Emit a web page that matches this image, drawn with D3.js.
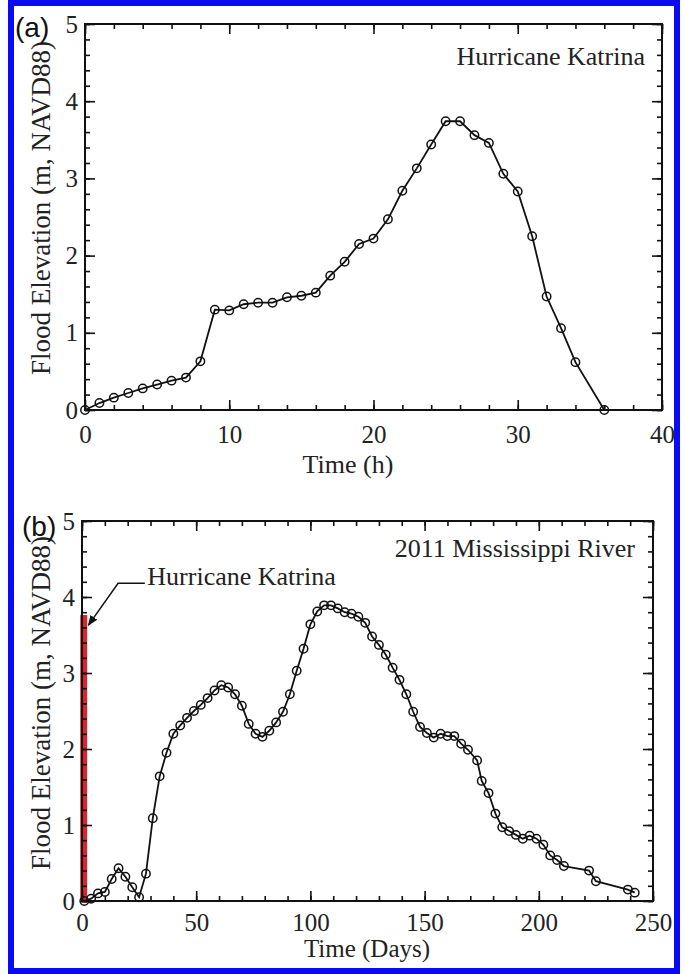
<!DOCTYPE html>
<html>
<head>
<meta charset="utf-8">
<script src="https://cdn.jsdelivr.net/npm/d3@7"></script>
<style>
    body { margin: 0; background: #fff; }
    svg { display: block; }
    .tick line { stroke: #111; stroke-width: 1.6; }
    .domain { display: none; }
    .tick text { font-family: "Liberation Serif", "Times New Roman", serif; font-size: 25px; fill: #222; }
    .serif { font-family: "Liberation Serif", "Times New Roman", serif; fill: #222; }
</style>
</head>
<body>
<svg id="fig" width="695" height="974"></svg>
<script>

// (a) Hurricane Katrina hydrograph, hourly
const katrinaHours = [0, 1, 2, 3, 4, 5, 6, 7, 8, 9, 10, 11, 12, 13, 14, 15, 16, 17, 18, 19, 20,
    21, 22, 23, 24, 25, 26, 27, 28, 29, 30, 31, 32, 33, 34, 36];
const katrinaElev = [0, 0.09, 0.16, 0.22, 0.28, 0.33, 0.38, 0.42, 0.63, 1.3, 1.29, 1.37, 1.39, 1.39, 1.46, 1.48, 1.52,
    1.74, 1.92, 2.15, 2.22, 2.47, 2.84, 3.13, 3.44, 3.74, 3.74, 3.56, 3.46, 3.06, 2.83, 2.25, 1.47, 1.06, 0.62, 0];

// (b) 2011 Mississippi River hydrograph, days
const riverDays = [1, 4, 7, 10, 13, 16, 19, 22, 25, 28, 31, 34, 37, 40, 43, 46, 49, 52, 55, 58,
    61, 64, 67, 70, 73, 76, 79, 82, 85, 88, 91, 94, 97, 100, 103, 106, 109, 112, 115, 118,
    121, 124, 127, 130, 133, 136, 139, 142, 145, 148, 151, 154, 157, 160, 163, 166, 169, 173, 175, 178,
    181, 184, 187, 190, 193, 196, 199, 202, 205, 208, 211, 222, 225, 239, 242];
const riverElev = [0, 0.03, 0.1, 0.12, 0.29, 0.43, 0.32, 0.18, 0.05, 0.36, 1.09, 1.64, 1.95, 2.2, 2.31, 2.41, 2.5, 2.58, 2.67, 2.77,
    2.84, 2.81, 2.72, 2.57, 2.33, 2.2, 2.16, 2.24, 2.35, 2.49, 2.72, 3.03, 3.32, 3.64, 3.81, 3.89, 3.89, 3.85, 3.8, 3.78,
    3.74, 3.66, 3.48, 3.37, 3.24, 3.07, 2.91, 2.72, 2.49, 2.29, 2.21, 2.15, 2.2, 2.17, 2.17, 2.07, 1.99, 1.85, 1.58, 1.42,
    1.15, 0.97, 0.92, 0.87, 0.82, 0.86, 0.82, 0.74, 0.6, 0.54, 0.46, 0.4, 0.26, 0.15, 0.11];

const xTicksA = [0, 10, 20, 30, 40];
const xMinorA = d3.range(0, 40.01, 2);
const xTicksB = [0, 50, 100, 150, 200, 250];
const xMinorB = d3.range(0, 250.01, 10);
const yTicks = [0, 1, 2, 3, 4, 5];
const yMinor = d3.range(0, 5.001, 0.2);

const fmt = d3.format("d");
const svg = d3.select("#fig");

// blue frame round the figure
svg.append("rect")
    .attr("x", 11).attr("y", 3)
    .attr("width", 666).attr("height", 968)
    .attr("fill", "none")
    .attr("stroke", "#0a0af5")
    .attr("stroke-width", 6);

function drawAxes(g, x, y, xMajor, xMinor, pad) {
    const w = x.range()[1], h = y.range()[0];

    g.append("g").attr("transform", `translate(0,${h})`)
        .call(d3.axisBottom(x).tickValues(xMinor).tickSize(-5).tickFormat(""));
    g.append("g").attr("transform", `translate(0,${h})`)
        .call(d3.axisBottom(x).tickValues(xMajor).tickFormat(fmt).tickSizeInner(-10).tickSizeOuter(0).tickPadding(pad));
    g.append("g")
        .call(d3.axisTop(x).tickValues(xMinor).tickSize(-5).tickFormat(""));
    g.append("g")
        .call(d3.axisTop(x).tickValues(xMajor).tickSize(-10).tickFormat(""));

    g.append("g")
        .call(d3.axisLeft(y).tickValues(yMinor).tickSize(-5).tickFormat(""));
    g.append("g")
        .call(d3.axisLeft(y).tickValues(yTicks).tickFormat(fmt).tickSizeInner(-10).tickSizeOuter(0).tickPadding(7));
    g.append("g").attr("transform", `translate(${w},0)`)
        .call(d3.axisRight(y).tickValues(yMinor).tickSize(-5).tickFormat(""));
    g.append("g").attr("transform", `translate(${w},0)`)
        .call(d3.axisRight(y).tickValues(yTicks).tickSize(-10).tickFormat(""));

    g.append("rect")
        .attr("width", w).attr("height", h)
        .attr("fill", "none")
        .attr("stroke", "#111")
        .attr("stroke-width", 2);
}

function drawSeries(g, x, y, xs, ys) {
    const pts = xs.map((d, i) => [d, ys[i]]);
    const line = d3.line().x(d => x(d[0])).y(d => y(d[1]));

    g.append("path")
        .attr("d", line(pts))
        .attr("fill", "none")
        .attr("stroke", "#111")
        .attr("stroke-width", 1.8);

    g.selectAll("circle.pt")
        .data(pts)
        .join("circle")
        .attr("class", "pt")
        .attr("cx", d => x(d[0]))
        .attr("cy", d => y(d[1]))
        .attr("r", 4.2)
        .attr("fill", "none")
        .attr("stroke", "#111")
        .attr("stroke-width", 1.5);
}

function yTitle(g, cx, cy) {
    g.append("text")
        .attr("class", "serif")
        .attr("transform", `translate(${cx},${cy}) rotate(-90)`)
        .attr("text-anchor", "middle")
        .style("font-size", "27px")
        .text("Flood Elevation (m, NAVD88)");
}

// ---------- panel (a) ----------
const gA = svg.append("g").attr("transform", "translate(85,24)");
const xA = d3.scaleLinear().domain([0, 40]).range([0, 577]);
const yA = d3.scaleLinear().domain([0, 5]).range([386, 0]);

drawSeries(gA, xA, yA, katrinaHours, katrinaElev);
drawAxes(gA, xA, yA, xTicksA, xMinorA, 15);

gA.append("text")
    .attr("class", "serif")
    .attr("x", 560).attr("y", 41)
    .attr("text-anchor", "end")
    .style("font-size", "26px")
    .text("Hurricane Katrina");

gA.append("text")
    .attr("class", "serif")
    .attr("x", 263).attr("y", 449)
    .attr("text-anchor", "middle")
    .style("font-size", "26px")
    .text("Time (h)");

yTitle(svg, 50, 208);

svg.append("text")
    .attr("x", 15).attr("y", 37)
    .style("font-family", "'Liberation Sans', Arial, sans-serif")
    .style("font-size", "28px")
    .attr("fill", "#111")
    .text("(a)");

// ---------- panel (b) ----------
const gB = svg.append("g").attr("transform", "translate(82,521)");
const xB = d3.scaleLinear().domain([0, 250]).range([0, 571]);
const yB = d3.scaleLinear().domain([0, 5]).range([380, 0]);

// Katrina event drawn on the same day axis
const katrinaEnd = d3.max(katrinaHours) / 24;
const katrinaPeak = d3.max(katrinaElev);
gB.append("rect")
    .attr("x", xB(0))
    .attr("y", yB(katrinaPeak))
    .attr("width", xB(katrinaEnd) - xB(0))
    .attr("height", yB(0) - yB(katrinaPeak))
    .attr("fill", "#e8343e")
    .attr("fill-opacity", 0.85)
    .attr("stroke", "#d6262f")
    .attr("stroke-width", 3.5);

drawSeries(gB, xB, yB, riverDays, riverElev);
drawAxes(gB, xB, yB, xTicksB, xMinorB, 12);

gB.append("text")
    .attr("class", "serif")
    .attr("x", 553).attr("y", 36)
    .attr("text-anchor", "end")
    .style("font-size", "26px")
    .text("2011 Mississippi River");

// leader arrow to the red Katrina bar
svg.append("defs").append("marker")
    .attr("id", "arrowhead")
    .attr("viewBox", "0 0 10 10")
    .attr("refX", 9).attr("refY", 5)
    .attr("markerWidth", 7).attr("markerHeight", 7)
    .attr("orient", "auto-start-reverse")
    .append("path")
    .attr("d", "M0,1 L10,5 L0,9 Z")
    .attr("fill", "#111");

const tipX = xB(katrinaEnd) + 3, tipY = yB(3.63);
gB.append("path")
    .attr("d", `M${xB(27.5)},${yB(4.18)} L${xB(15.8)},${yB(4.18)} L${tipX},${tipY}`)
    .attr("fill", "none")
    .attr("stroke", "#111")
    .attr("stroke-width", 1.5)
    .attr("marker-end", "url(#arrowhead)");

gB.append("text")
    .attr("class", "serif")
    .attr("x", xB(28.6)).attr("y", 64)
    .style("font-size", "26px")
    .text("Hurricane Katrina");

gB.append("text")
    .attr("class", "serif")
    .attr("x", 285).attr("y", 436)
    .attr("text-anchor", "middle")
    .style("font-size", "25px")
    .text("Time (Days)");

yTitle(svg, 50, 703);

svg.append("text")
    .attr("x", 22).attr("y", 536)
    .style("font-family", "'Liberation Sans', Arial, sans-serif")
    .style("font-size", "28px")
    .attr("fill", "#111")
    .text("(b)");

</script>
</body>
</html>
